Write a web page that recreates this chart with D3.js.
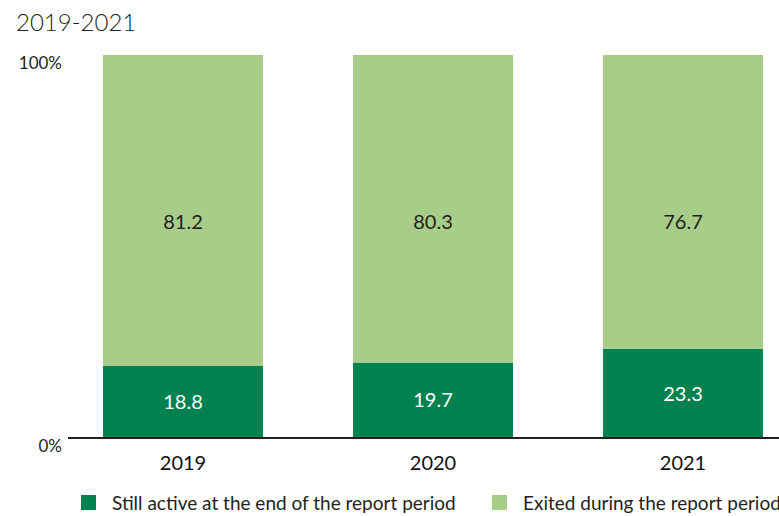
<!DOCTYPE html>
<html>
<head>
<meta charset="utf-8">
<script src="https://cdn.jsdelivr.net/npm/d3@7"></script>
<style>
  body { margin: 0; background: #fff; }
  svg { display: block; font-family: Lato, "Open Sans", sans-serif; }
</style>
</head>
<body>
<div id="chart"></div>
<script>
(function () {

  const years = ['2019', '2020', '2021'];
  const stillActive = [18.8, 19.7, 23.3];
  const exited = [81.2, 80.3, 76.7];
  const seriesKeys = ['active', 'exited'];
  const seriesNames = ['Still active at the end of the report period', 'Exited during the report period'];
  const yTicks = [0, 100];
  const subtitle = '2019-2021';

  const width = 779,
    height = 516;

  const rows = years.map((year, i) => ({
    year,
    active: stillActive[i],
    exited: exited[i]
  }));

  const x = d3.scaleBand()
    .domain(years)
    .range([58, 808])
    .paddingInner(0.36)
    .paddingOuter(0.18);

  const y = d3.scaleLinear().domain([0, 100]).range([438, 55]);

  const color = d3.scaleOrdinal()
    .domain(seriesKeys)
    .range(['#00814f', '#a8cd89']);

  const stack = d3.stack().keys(seriesKeys)(rows);

  const svg = d3.select('#chart')
    .append('svg')
    .attr('width', width)
    .attr('height', height);

  svg.append('text')
    .attr('x', 16)
    .attr('y', 31)
    .attr('font-size', 24)
    .attr('font-weight', 300)
    .attr('fill', '#231f20')
    .text(subtitle);

  // bars
  const serie = svg.selectAll('.serie')
    .data(stack)
    .enter()
    .append('g')
    .attr('class', 'serie')
    .attr('fill', d => color(d.key));

  serie.selectAll('rect')
    .data(d => d)
    .enter()
    .append('rect')
    .attr('x', d => x(d.data.year))
    .attr('width', x.bandwidth())
    .attr('y', d => y(d[1]))
    .attr('height', d => y(d[0]) - y(d[1]));

  // value labels: dark segment centred, light segment at a fixed height
  serie.selectAll('text')
    .data(d => d.map(p => ({ p, key: d.key })))
    .enter()
    .append('text')
    .attr('x', d => x(d.p.data.year) + x.bandwidth() / 2)
    .attr('y', d => d.key === 'active' ? (y(d.p[0]) + y(d.p[1])) / 2 : y(56.5))
    .attr('dy', '0.36em')
    .attr('text-anchor', 'middle')
    .attr('font-size', 20)
    .attr('fill', d => d.key === 'active' ? '#fff' : '#231f20')
    .text(d => d.p.data[d.key].toFixed(1));

  // baseline
  svg.append('line')
    .attr('x1', 68)
    .attr('x2', width)
    .attr('y1', y(0))
    .attr('y2', y(0))
    .attr('stroke', '#231f20')
    .attr('stroke-width', 2);

  // y tick labels
  svg.selectAll('.ytick')
    .data(yTicks)
    .enter()
    .append('text')
    .attr('class', 'ytick')
    .attr('x', 62)
    .attr('y', d => y(d) + 14)
    .attr('text-anchor', 'end')
    .attr('font-size', 17)
    .attr('fill', '#231f20')
    .text(d => d + '%');

  // x axis labels
  const xAxis = d3.axisBottom(x).tickSize(0).tickPadding(18);
  const gx = svg.append('g')
    .attr('transform', `translate(0, ${y(0)})`)
    .call(xAxis);
  gx.select('.domain').remove();
  gx.selectAll('text')
    .attr('font-family', 'Lato, sans-serif')
    .attr('font-size', 20)
    .attr('fill', '#111');

  // legend
  const legend = svg.selectAll('.legend')
    .data(seriesKeys)
    .enter()
    .append('g')
    .attr('class', 'legend')
    .attr('transform', (d, i) => `translate(${i === 0 ? 81 : 492}, 495)`);

  legend.append('rect')
    .attr('width', 15)
    .attr('height', 15)
    .attr('fill', d => color(d));

  legend.append('text')
    .attr('x', 31)
    .attr('y', 15)
    .attr('font-size', 19)
    .attr('fill', '#231f20')
    .text((d, i) => seriesNames[i]);

})();
</script>
</body>
</html>
